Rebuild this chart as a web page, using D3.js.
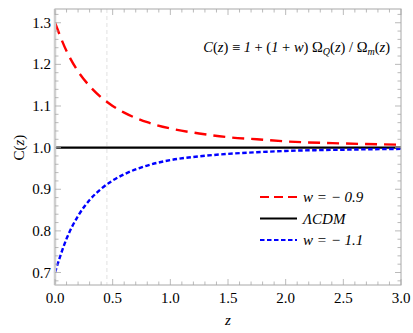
<!DOCTYPE html>
<html>
<head>
<meta charset="utf-8">
<script src="https://cdn.jsdelivr.net/npm/d3@7"></script>
<style>
  html, body { margin: 0; padding: 0; background: #fff; }
  svg { display: block; }
  #chart text { font-family: "Liberation Serif", serif !important; }
</style>
</head>
<body>
<svg id="chart" width="413" height="333" font-family="Liberation Serif"></svg>
<script>
'use strict';

// valores
const zValues    = [0, 0.1, 0.2, 0.3, 0.4, 0.5, 0.6, 0.8, 1.0, 1.25, 1.5, 1.75, 2.0, 2.5, 3.0];
const cWm09      = [1.300, 1.232, 1.183, 1.148, 1.121, 1.100, 1.084, 1.061, 1.046, 1.034, 1.025, 1.020, 1.015, 1.010, 1.007];
const cWm11      = [0.700, 0.781, 0.836, 0.874, 0.901, 0.921, 0.936, 0.957, 0.970, 0.979, 0.985, 0.989, 0.992, 0.995, 0.997];
const cLCDM      = [1.0, 1.0];
const lcdmZ      = [0, 3.0];
const xTicks     = [0, 0.5, 1.0, 1.5, 2.0, 2.5, 3.0];
const yTicks     = [0.7, 0.8, 0.9, 1.0, 1.1, 1.2, 1.3];
const markerZ    = 0.45;
const legendText = ['w = \u2212 0.9', '\u039BCDM', 'w = \u2212 1.1'];

const svg = d3.select('#chart');
const m = { left: 55, right: 12, top: 9, bottom: 48 };
const W = 413, H = 333;

const x = d3.scaleLinear().domain([0, 3]).range([m.left, W - m.right]);
const y = d3.scaleLinear().domain([0.67, 1.333]).range([H - m.bottom, m.top]);

const frameColor = '#a8a8a8';

// função auxiliar: texto com fonte serifada
function addText(parent) {
  return parent.append('text')
    .attr('font-family', 'Liberation Serif')
    .style('font-family', '"Liberation Serif", serif');
}

// linha tracejada cinza vertical
svg.append('line')
  .attr('x1', x(markerZ)).attr('x2', x(markerZ))
  .attr('y1', y.range()[1]).attr('y2', y.range()[0])
  .attr('stroke', '#d4d4d4').attr('stroke-width', 0.7)
  .attr('stroke-dasharray', '4,3');

// séries
const line = d3.line().x(d => x(d[0])).y(d => y(d[1])).curve(d3.curveMonotoneX);

svg.append('path')
  .datum(d3.zip(lcdmZ, cLCDM))
  .attr('d', line).attr('fill', 'none')
  .attr('stroke', '#000').attr('stroke-width', 2.2);

svg.append('path')
  .datum(d3.zip(zValues, cWm09))
  .attr('d', line).attr('fill', 'none')
  .attr('stroke', '#ff0000').attr('stroke-width', 2.4)
  .attr('stroke-dasharray', '12,7');

svg.append('path')
  .datum(d3.zip(zValues, cWm11))
  .attr('d', line).attr('fill', 'none')
  .attr('stroke', '#0000ff').attr('stroke-width', 2.4)
  .attr('stroke-dasharray', '4.5,2.5');

// moldura
const [x0, x1] = x.range();
const [yb, yt] = y.range();
svg.append('rect')
  .attr('x', x0).attr('y', yt).attr('width', x1 - x0).attr('height', yb - yt)
  .attr('fill', 'none').attr('stroke', frameColor).attr('stroke-width', 1);
svg.append('line')
  .attr('x1', x0).attr('x2', x0).attr('y1', yt).attr('y2', yb)
  .attr('stroke', '#cfcfcf').attr('stroke-width', 2.5);

// ticks (para dentro, nos quatro lados)
const xMinor = d3.range(0, 3.0001, 0.1);
const yMinor = d3.range(0.68, 1.3401, 0.02).filter(v => v <= 1.333);
const tickG = svg.append('g').attr('stroke', frameColor).attr('stroke-width', 0.8);
xMinor.forEach(v => {
  const major = xTicks.some(t => Math.abs(t - v) < 1e-6);
  const len = major ? 6 : 3.5;
  tickG.append('line').attr('x1', x(v)).attr('x2', x(v)).attr('y1', yb).attr('y2', yb - len);
  tickG.append('line').attr('x1', x(v)).attr('x2', x(v)).attr('y1', yt).attr('y2', yt + len);
});
yMinor.forEach(v => {
  const major = yTicks.some(t => Math.abs(t - v) < 1e-6);
  const len = major ? 6 : 3.5;
  tickG.append('line').attr('x1', x0).attr('x2', x0 + len).attr('y1', y(v)).attr('y2', y(v));
  tickG.append('line').attr('x1', x1).attr('x2', x1 - len).attr('y1', y(v)).attr('y2', y(v));
});

// rótulos dos ticks
xTicks.forEach(d => {
  addText(svg).attr('x', x(d)).attr('y', yb + 18)
    .attr('text-anchor', 'middle').attr('font-size', 15)
    .text(d3.format('.1f')(d));
});
yTicks.forEach(d => {
  addText(svg).attr('x', x0 - 4).attr('y', y(d) + 5)
    .attr('text-anchor', 'end').attr('font-size', 15)
    .text(d3.format('.1f')(d));
});

// títulos dos eixos
const yLab = addText(svg)
  .attr('transform', `translate(24, ${y(1.0)}) rotate(-90)`)
  .attr('text-anchor', 'middle').attr('font-size', 15);
yLab.append('tspan').text('C(');
yLab.append('tspan').attr('font-style', 'italic').text('z');
yLab.append('tspan').text(')');
addText(svg)
  .attr('x', (x0 + x1) / 2).attr('y', 325)
  .attr('text-anchor', 'middle').attr('font-size', 15).attr('font-style', 'italic')
  .text('z');

// fórmula
const ann = addText(svg)
  .attr('x', 390).attr('y', 52).attr('text-anchor', 'end').attr('font-size', 14.5);
ann.append('tspan').attr('font-style', 'italic').text('C');
ann.append('tspan').text('(');
ann.append('tspan').attr('font-style', 'italic').text('z');
ann.append('tspan').text(') \u2261 ');
ann.append('tspan').attr('font-style', 'italic').text('1');
ann.append('tspan').text(' + (');
ann.append('tspan').attr('font-style', 'italic').text('1');
ann.append('tspan').text(' + ');
ann.append('tspan').attr('font-style', 'italic').text('w');
ann.append('tspan').text(') \u03A9');
ann.append('tspan').attr('font-style', 'italic').attr('font-size', 10).attr('dy', 3).text('Q');
ann.append('tspan').attr('dy', -3).text('(');
ann.append('tspan').attr('font-style', 'italic').text('z');
ann.append('tspan').text(') / \u03A9');
ann.append('tspan').attr('font-style', 'italic').attr('font-size', 10).attr('dy', 3).text('m');
ann.append('tspan').attr('dy', -3).text('(');
ann.append('tspan').attr('font-style', 'italic').text('z');
ann.append('tspan').text(')');

// legenda
const legend = [
  { color: '#ff0000', dash: '9,5', label: legendText[0] },
  { color: '#000000', dash: null, label: legendText[1] },
  { color: '#0000ff', dash: '4.5,2.5', label: legendText[2] }
];
legend.forEach((d, i) => {
  const ly = 197 + i * 21.5;
  svg.append('line')
    .attr('x1', 260).attr('x2', 297).attr('y1', ly).attr('y2', ly)
    .attr('stroke', d.color).attr('stroke-width', 2.2)
    .attr('stroke-dasharray', d.dash);
  addText(svg)
    .attr('x', 303).attr('y', ly + 5)
    .attr('font-size', 15).attr('font-style', 'italic')
    .text(d.label);
});
</script>
</body>
</html>
